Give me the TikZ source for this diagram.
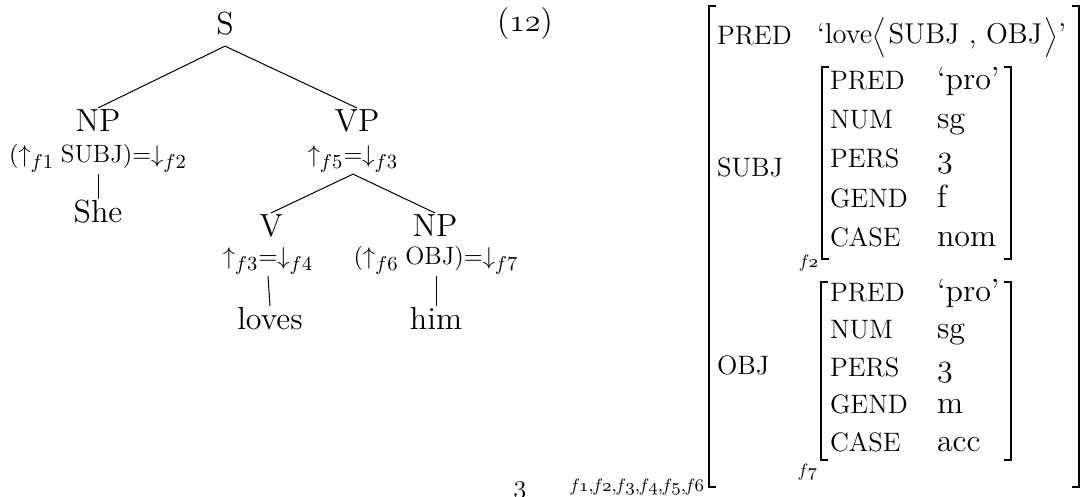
\documentclass[tikz,border=0pt]{standalone}
\DeclareMathSizes{11.25}{10.95}{9}{7}
\newcommand\flab[1]{\textit{f}$\mathnormal{#1}$}
\tikzset{
  every node/.style={inner sep=0pt, outer sep=0pt},
  cat/.style={font=\fontsize{14.4}{17}\selectfont, text height=10.8pt, text depth=5pt, anchor=base},
  word/.style={font=\fontsize{14.4}{17}\selectfont, text height=10.8pt, anchor=base},
  ann/.style={font=\fontsize{11.25}{13.5}\selectfont, text depth=5pt, anchor=base},
  branch/.style={line width=0.45pt},
  attr/.style={font=\fontsize{12}{14.4}\selectfont, anchor=base west},
  val/.style={font=\fontsize{14.4}{17}\selectfont, anchor=base west},
  flabel/.style={font=\fontsize{8}{9.6}\selectfont, anchor=east},
  brk/.style={line width=0.75pt},
}
\begin{document}
\begin{tikzpicture}[x=0.45pt, y=-0.45pt]
\useasboundingbox (0,0) rectangle (1081,497);
% ---------- tree ----------
\node[cat] (S) at (225,35) {S};
\node[cat] (NP) at (98,132) {NP};
\node[ann] (NPa) at (98,163) {$({\uparrow}_{f1}\;\mbox{SUBJ}){=}{\downarrow}_{f2}$};
\node[word] (she) at (98,223) {She};
\node[cat] (VP) at (357,132) {VP};
\node[ann] (VPa) at (353,163) {${\uparrow}_{f5}{=}{\downarrow}_{f3}$};
\node[cat] (V) at (271,237) {V};
\node[ann] (Va) at (268,265) {${\uparrow}_{f3}{=}{\downarrow}_{f4}$};
\node[word] (loves) at (270,330) {loves};
\node[cat] (NPb) at (435,237) {NP};
\node[ann] (NPba) at (436,265) {$({\uparrow}_{f6}\;\mbox{OBJ}){=}{\downarrow}_{f7}$};
\node[word] (him) at (436,330) {him};
\draw[branch] (S.south) -- (NP.north);
\draw[branch] (S.south) -- (VP.north);
\draw[branch] (NPa.south) -- (she.north);
\draw[branch] (VPa.south) -- (V.north);
\draw[branch] (VPa.south) -- (NPb.north);
\draw[branch] (Va.south) -- (loves.north);
\draw[branch] (NPba.south) -- (him.north);
% ---------- example number and page number ----------
\node[val, anchor=base] (exnum) at (525,32) {($\mathnormal{12}$)};
\node[font=\fontsize{13}{15.6}\selectfont, anchor=base] (pg) at (520,493) {$\mathnormal{3}$};
% ---------- AVM brackets ----------
\draw[brk] (716,6) -- (709,6) -- (709,487) -- (716,487);
\draw[brk] (1072,6) -- (1079,6) -- (1079,487) -- (1072,487);
\draw[brk] (829,67) -- (822,67) -- (822,259) -- (829,259);
\draw[brk] (1004,67) -- (1011,67) -- (1011,259) -- (1004,259);
\draw[brk] (828,282) -- (821,282) -- (821,460) -- (828,460);
\draw[brk] (1004,282) -- (1011,282) -- (1011,460) -- (1004,460);
% ---------- AVM contents ----------
\node[attr] (pred0) at (717,45) {PRED};
\node[val, font=\fontsize{12.9}{15.5}\selectfont] (love) at (817,44)
  {`love$\left\langle\vrule height 11pt depth 4.6pt width 0pt\right.$SUBJ , OBJ$\left.\vrule height 11pt depth 4.6pt width 0pt\right\rangle$'};
\node[attr] (subj) at (717,177) {SUBJ};
\node[attr] (obj) at (717,375) {OBJ};
% SUBJ f-structure
\node[attr] (sa1) at (830,90) {PRED};   \node[val] (sv1) at (937,90) {`pro'};
\node[attr] (sa2) at (830,129) {NUM};   \node[val] (sv2) at (937,129) {sg};
\node[attr] (sa3) at (830,168) {PERS};  \node[val] (sv3) at (937,168) {$\mathnormal{3}$};
\node[attr] (sa4) at (830,208) {GEND};  \node[val] (sv4) at (937,208) {f};
\node[attr] (sa5) at (830,247) {CASE};  \node[val] (sv5) at (937,247) {nom};
% OBJ f-structure
\node[attr] (oa1) at (830,302) {PRED};  \node[val] (ov1) at (937,302) {`pro'};
\node[attr] (oa2) at (830,339) {NUM};   \node[val] (ov2) at (937,339) {sg};
\node[attr] (oa3) at (830,377) {PERS};  \node[val] (ov3) at (937,377) {$\mathnormal{3}$};
\node[attr] (oa4) at (830,414) {GEND};  \node[val] (ov4) at (937,414) {m};
\node[attr] (oa5) at (830,452) {CASE};  \node[val] (ov5) at (937,452) {acc};
% labels
\node[flabel] (f2) at (818,263) {\flab{2}};
\node[flabel] (f7) at (817,472) {\flab{7}};
\node[flabel] (fall) at (704,487) {\flab{1},\flab{2},\flab{3},\flab{4},\flab{5},\flab{6}};
\end{tikzpicture}
\end{document}
